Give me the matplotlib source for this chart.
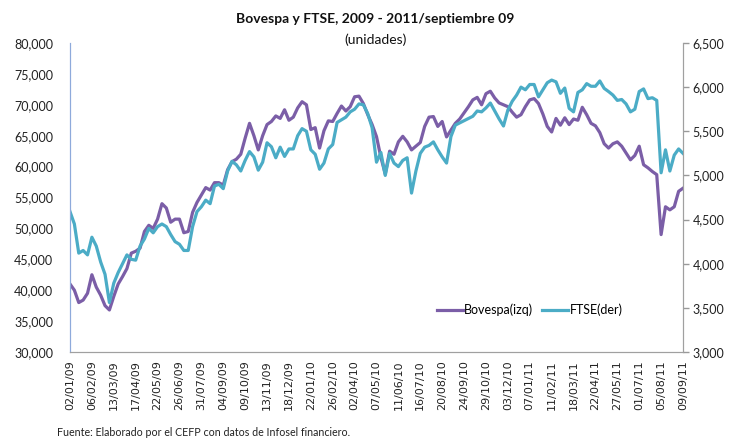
import matplotlib
matplotlib.use('Agg')
import matplotlib.pyplot as plt
import matplotlib.ticker as mticker
import pandas as pd

# weekly closes (Fridays, 02/01/09 - 09/09/11)
fechas = pd.date_range('2009-01-02', periods=141, freq='7D')

bovespa = [
    41000, 40000, 38000, 38400, 39500, 42500, 40500, 39200, 37500, 36800,
    39000, 41000, 42200, 43500, 46000, 46300, 46800, 49500, 50500, 50000,
    51500, 54000, 53300, 51000, 51500, 51500, 49300, 49500, 52600, 54200,
    55400, 56600, 56200, 57400, 57400, 57000, 59500, 60800, 61200, 62000,
    64600, 67000, 65000, 62700, 65000, 66800, 67300, 68200, 67800, 69200,
    67500, 68000, 69500, 70500, 70000, 66000, 66300, 63000, 65800, 67400,
    67300, 68600, 69800, 69000, 69700, 71300, 71400, 70200, 68400, 66800,
    64850, 61500, 58800, 62500, 62000, 64000, 64900, 64000, 62700, 63300,
    63900, 66500, 68000, 68100, 66500, 67300, 64800, 65900, 67000, 67700,
    68700, 69700, 70800, 71200, 70000, 71800, 72200, 71100, 70300, 70000,
    69700, 68800, 68000, 68400, 69700, 70800, 71000, 70200, 68500, 66500,
    65600, 67800, 66700, 67900, 66800, 67700, 67500, 69600, 68400, 67000,
    66600, 65500, 63700, 63000, 63700, 64000, 63300, 62200, 61100, 61800,
    63300, 60300, 59800, 59200, 58700, 49000, 53500, 53000, 53500, 56000,
    56500,
]

ftse = [
    4590, 4450, 4120, 4150, 4100, 4300, 4200, 4020, 3880, 3560,
    3780, 3900, 4000, 4100, 4050, 4040, 4200, 4280, 4400, 4350,
    4420, 4450, 4420, 4330, 4250, 4220, 4150, 4150, 4420, 4590,
    4645, 4720, 4680, 4880, 4900, 4850, 5050, 5160, 5120, 5050,
    5170, 5270, 5210, 5060, 5150, 5370, 5325, 5200, 5320, 5215,
    5300, 5300, 5450, 5530, 5500, 5290, 5240, 5070, 5140, 5300,
    5350, 5600, 5630, 5660, 5720, 5750, 5810, 5800, 5700, 5540,
    5150, 5260, 5000, 5250, 5140, 5100, 5170, 5200, 4800, 5050,
    5250, 5320, 5340, 5380, 5290, 5210, 5140, 5440, 5570, 5595,
    5620, 5645, 5670, 5730, 5720, 5765, 5820, 5730, 5640, 5560,
    5740, 5840, 5910, 6000, 5970, 6030, 6030, 5890, 5970, 6050,
    6080, 6060, 5930, 5990, 5760, 5720, 5940, 5970, 6040, 6010,
    6010, 6070, 5986, 5950, 5910, 5850, 5860, 5810, 5720, 5750,
    5950, 5980, 5870, 5880, 5850, 5030, 5290, 5050, 5230, 5300,
    5250,
]

# tick labels every 5 weeks
ticks_x = fechas[::5]

morado = '#7b5ea7'
aqua = '#4bacc6'
fuente = 'Lato'

fig = plt.figure(figsize=(7.46, 4.38), dpi=100)
ax = fig.add_axes([70 / 746, 86 / 438, 613 / 746, 309 / 438])
ax2 = ax.twinx()

l1, = ax.plot(fechas, bovespa, color=morado, lw=2.3, label='Bovespa(izq)')
l2, = ax2.plot(fechas, ftse, color=aqua, lw=2.3, label='FTSE(der)')

ax.set_xlim(fechas[0], fechas[-1])
ax.set_ylim(30000, 80000)
ax2.set_ylim(3000, 6500)
ax.yaxis.set_major_locator(mticker.MultipleLocator(5000))
ax2.yaxis.set_major_locator(mticker.MultipleLocator(500))
fmt = mticker.FuncFormatter(lambda v, p: f'{v:,.0f}')
ax.yaxis.set_major_formatter(fmt)
ax2.yaxis.set_major_formatter(fmt)

ax.set_xticks(ticks_x)
ax.set_xticklabels([d.strftime('%d/%m/%y') for d in ticks_x], rotation=90,
                   fontsize=8, family='DejaVu Sans', color='#222222')
ax.tick_params(axis='x', length=0, pad=6)
ax.tick_params(axis='y', length=0, pad=12, labelsize=9, labelcolor='#222222')
ax2.tick_params(axis='y', length=4, width=1, color='#999999', pad=3,
                labelsize=9, labelcolor='#222222')
for lab in ax.get_yticklabels() + ax2.get_yticklabels():
    lab.set_family(fuente)

for a in (ax, ax2):
    a.spines['top'].set_visible(False)
    a.spines['bottom'].set_color('#a0a0a0')
    a.spines['right'].set_color('#a0a0a0')
    a.spines['left'].set_color('#8eaadb')
    a.set_facecolor('none')

ax2.legend(handles=[l1, l2], loc='center left', bbox_to_anchor=(0.58, 0.136),
           ncol=2, frameon=False, handlelength=2.1, columnspacing=0.7,
           handletextpad=0.1, prop={'family': fuente, 'size': 9})

fig.text(0.503, 0.957, 'Bovespa y FTSE, 2009 - 2011/septiembre 09', ha='center',
         va='center', fontsize=10, fontweight='bold', family=fuente, color='#111111')
fig.text(0.503, 0.909, '(unidades)', ha='center', va='center', fontsize=10,
         family=fuente, color='#111111')
fig.text(57 / 746, 1 - 433 / 438, 'Fuente: Elaborado por el CEFP con datos de Infosel financiero.',
         ha='left', va='center', fontsize=7.7, family=fuente, color='#222222')

fig.savefig('out.png', dpi=100)
